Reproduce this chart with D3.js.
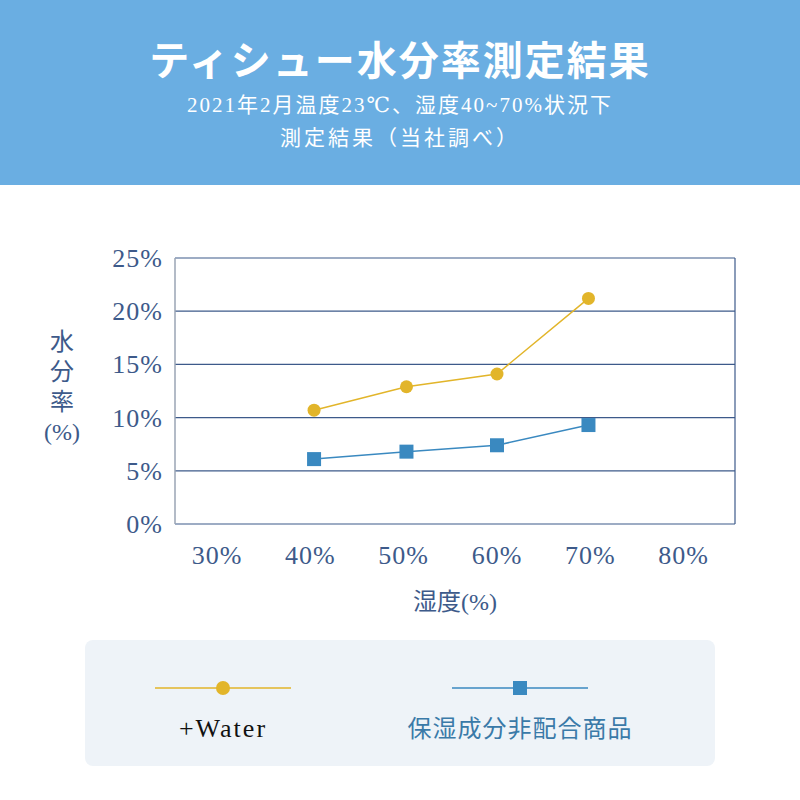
<!DOCTYPE html><html><head><meta charset="utf-8">
<script src="https://cdn.jsdelivr.net/npm/d3@7"></script>
<style>body{margin:0;background:#fff}svg{display:block}</style></head><body>
<script>
const xTicks = [30,40,50,60,70,80];
const yTicks = [0,5,10,15,20,25];
const humidity = [40.4,50.3,60.0,69.8];
const waterValues = [10.7,12.9,14.1,21.2];
const plainValues = [6.1,6.8,7.4,9.3];
const seriesNames = ["+Water","保湿成分非配合商品"];
const title = "ティシュー水分率測定結果";
const subtitle1 = "2021年2月温度23℃、湿度40~70%状況下";
const subtitle2 = "測定結果（当社調べ）";

const serif = "'Liberation Serif','DejaVu Serif','Noto Sans CJK JP',serif";
const cAxis = "#3d5a8a", cYel = "#e2b52a", cBlue = "#3a89c0";
const svg = d3.select("body").append("svg").attr("width",800).attr("height",800);
svg.append("rect").attr("width",800).attr("height",185).attr("fill","#6aaee2");
svg.append("text").attr("x",400).attr("y",75).attr("text-anchor","middle").attr("fill","#fff")
  .attr("font-family","'Noto Sans CJK JP'").attr("font-weight","bold").attr("font-size",40).attr("letter-spacing",2).text(title);
svg.append("text").attr("x",400).attr("y",112).attr("text-anchor","middle").attr("fill","#fff")
  .attr("font-family",serif).attr("font-size",21).attr("letter-spacing",2).text(subtitle1);
svg.append("text").attr("x",400).attr("y",145).attr("text-anchor","middle").attr("fill","#fff")
  .attr("font-family",serif).attr("font-size",21).attr("letter-spacing",3).text(subtitle2);

const x = d3.scaleLinear().domain([25.5,85.5]).range([175,735]);
const y = d3.scaleLinear().domain([0,25]).range([524,258]);
const g = svg.append("g");
g.selectAll(".gl").data(yTicks).join("line").attr("x1",175).attr("x2",735)
  .attr("y1",d=>y(d)).attr("y2",d=>y(d)).attr("stroke",cAxis).attr("stroke-width",1.2);
g.append("line").attr("x1",175).attr("x2",175).attr("y1",258).attr("y2",524).attr("stroke","#9aa4b4").attr("stroke-width",1.5);
g.append("line").attr("x1",735).attr("x2",735).attr("y1",258).attr("y2",524).attr("stroke",cAxis).attr("stroke-width",1.2);
g.selectAll(".yl").data(yTicks).join("text").attr("x",163).attr("y",d=>y(d)+9).attr("text-anchor","end")
  .attr("font-family",serif).attr("font-size",26).attr("fill",cAxis).attr("letter-spacing",1).text(d=>d+"%");
g.selectAll(".xl").data(xTicks).join("text").attr("x",d=>x(d)).attr("y",564).attr("text-anchor","middle")
  .attr("font-family",serif).attr("font-size",26).attr("fill",cAxis).attr("letter-spacing",1).text(d=>d+"%");
["水","分","率","(%)"].forEach((t,i)=>svg.append("text").attr("x",62).attr("y",350+i*30).attr("text-anchor","middle")
  .attr("font-family",serif).attr("font-size",24).attr("fill",cAxis).text(t));
svg.append("text").attr("x",455).attr("y",610).attr("text-anchor","middle")
  .attr("font-family",serif).attr("font-size",24).attr("fill",cAxis).text("湿度(%)");

const line = d3.line().x((d,i)=>x(humidity[i])).y(d=>y(d));
g.append("path").datum(waterValues).attr("d",line).attr("fill","none").attr("stroke",cYel).attr("stroke-width",1.5);
g.append("path").datum(plainValues).attr("d",line).attr("fill","none").attr("stroke",cBlue).attr("stroke-width",1.5);
g.selectAll(".wp").data(waterValues).join("circle").attr("cx",(d,i)=>x(humidity[i])).attr("cy",d=>y(d)).attr("r",6.5).attr("fill",cYel);
g.selectAll(".bp").data(plainValues).join("rect").attr("x",(d,i)=>x(humidity[i])-7).attr("y",d=>y(d)-7)
  .attr("width",14).attr("height",14).attr("fill",cBlue);

// legend
svg.append("rect").attr("x",85).attr("y",640).attr("width",630).attr("height",126).attr("rx",8).attr("fill","#eef3f8");
svg.append("line").attr("x1",155).attr("x2",291).attr("y1",688).attr("y2",688).attr("stroke",cYel).attr("stroke-width",1.5);
svg.append("circle").attr("cx",223).attr("cy",688).attr("r",7).attr("fill",cYel);
svg.append("line").attr("x1",452).attr("x2",588).attr("y1",688).attr("y2",688).attr("stroke",cBlue).attr("stroke-width",1.5);
svg.append("rect").attr("x",513).attr("y",681).attr("width",14).attr("height",14).attr("fill",cBlue);
svg.append("text").attr("x",223).attr("y",737).attr("text-anchor","middle").attr("font-family",serif)
  .attr("font-size",26).attr("letter-spacing",2).attr("fill","#111").text(seriesNames[0]);
svg.append("text").attr("x",520).attr("y",737).attr("text-anchor","middle").attr("font-family",serif)
  .attr("font-size",24).attr("letter-spacing",1).attr("fill","#3a7aa8").text(seriesNames[1]);
</script></body></html>
